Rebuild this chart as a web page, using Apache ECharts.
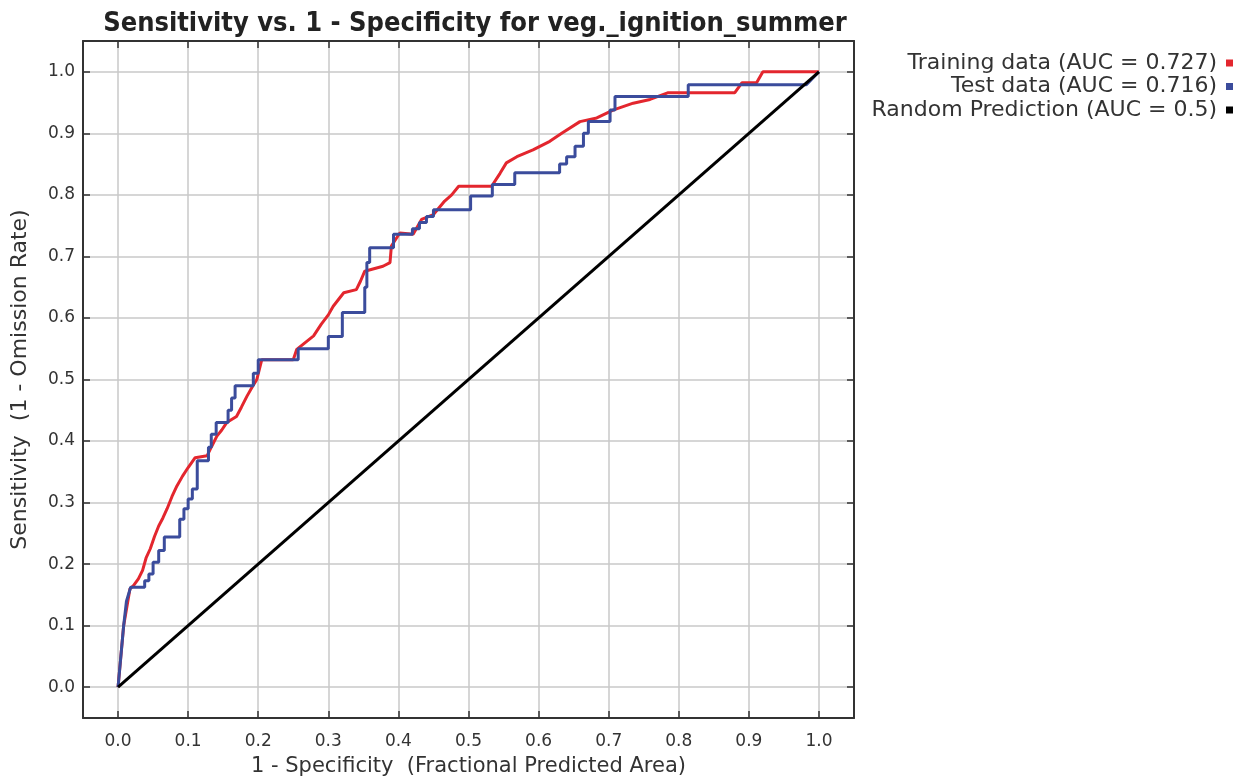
<!DOCTYPE html>
<html>
<head>
<meta charset="utf-8">
<script src="https://cdn.jsdelivr.net/npm/echarts@6/dist/echarts.min.js"></script>
<style>html,body{margin:0;padding:0;background:#fff}#c{width:1242px;height:782px}</style>
</head>
<body>
<div id="c"></div>
<script>
const titleText = 'Sensitivity vs. 1 - Specificity for veg._ignition_summer';
const xAxisTitle = '1 - Specificity  (Fractional Predicted Area)';
const yAxisTitle = 'Sensitivity  (1 - Omission Rate)';
const tickValues = [0, 0.1, 0.2, 0.3, 0.4, 0.5, 0.6, 0.7, 0.8, 0.9, 1.0];
const seriesNames = ['Training data (AUC = 0.727)', 'Test data (AUC = 0.716)', 'Random Prediction (AUC = 0.5)'];

const trainingData = [[0,0],[0.008,0.10],[0.017,0.16],[0.022,0.165],[0.029,0.176],[0.035,0.19],[0.04,0.21],[0.046,0.225],[0.052,0.245],[0.058,0.262],[0.064,0.275],[0.07,0.29],[0.077,0.31],[0.084,0.327],[0.092,0.343],[0.1,0.357],[0.11,0.373],[0.127,0.376],[0.133,0.39],[0.141,0.408],[0.148,0.418],[0.155,0.43],[0.169,0.44],[0.176,0.455],[0.184,0.473],[0.191,0.487],[0.198,0.5],[0.205,0.532],[0.25,0.532],[0.255,0.549],[0.267,0.56],[0.279,0.571],[0.29,0.59],[0.3,0.605],[0.307,0.619],[0.322,0.641],[0.34,0.646],[0.346,0.66],[0.352,0.676],[0.378,0.684],[0.388,0.69],[0.39,0.717],[0.402,0.738],[0.421,0.736],[0.433,0.76],[0.45,0.768],[0.466,0.79],[0.476,0.80],[0.486,0.814],[0.533,0.814],[0.545,0.835],[0.554,0.852],[0.569,0.862],[0.592,0.873],[0.616,0.887],[0.633,0.9],[0.659,0.919],[0.683,0.925],[0.707,0.938],[0.735,0.949],[0.759,0.955],[0.785,0.966],[0.88,0.966],[0.89,0.982],[0.911,0.982],[0.92,1.0],[1,1]];

const testData = [[0,0],[0.008,0.10],[0.012,0.14],[0.018,0.1625],[0.038,0.1625],[0.038,0.173],[0.044,0.173],[0.044,0.184],[0.05,0.184],[0.05,0.203],[0.058,0.203],[0.058,0.222],[0.066,0.222],[0.066,0.244],[0.088,0.244],[0.088,0.273],[0.094,0.273],[0.094,0.29],[0.1,0.29],[0.1,0.306],[0.106,0.306],[0.106,0.322],[0.113,0.322],[0.113,0.368],[0.129,0.368],[0.129,0.39],[0.133,0.39],[0.133,0.411],[0.14,0.411],[0.14,0.43],[0.157,0.43],[0.157,0.45],[0.162,0.45],[0.162,0.47],[0.167,0.47],[0.167,0.49],[0.193,0.49],[0.193,0.51],[0.2,0.51],[0.2,0.532],[0.257,0.532],[0.257,0.55],[0.3,0.55],[0.3,0.57],[0.32,0.57],[0.32,0.609],[0.352,0.609],[0.352,0.65],[0.355,0.65],[0.355,0.69],[0.359,0.69],[0.359,0.714],[0.393,0.714],[0.393,0.736],[0.42,0.736],[0.42,0.745],[0.43,0.745],[0.43,0.755],[0.44,0.755],[0.44,0.765],[0.45,0.765],[0.45,0.776],[0.503,0.776],[0.503,0.798],[0.534,0.798],[0.534,0.817],[0.566,0.817],[0.566,0.836],[0.63,0.836],[0.63,0.85],[0.64,0.85],[0.64,0.862],[0.652,0.862],[0.652,0.879],[0.664,0.879],[0.664,0.9],[0.671,0.9],[0.671,0.919],[0.702,0.919],[0.702,0.938],[0.709,0.938],[0.709,0.96],[0.8135,0.96],[0.8135,0.979],[0.982,0.979],[1,1]];

const randomData = [[0,0],[1,1]];

const colors = ['#e3262e', '#3b4c9c', '#000000'];
const FONT = "'DejaVu Sans', sans-serif";
const TITLE_FONT = "'DejaVu Sans Condensed', 'DejaVu Sans', sans-serif";

const chart = echarts.init(document.getElementById('c'), null, {renderer: 'canvas'});

function makeAxis(pos, isX, primary) {
  return {
    type: 'value',
    position: pos,
    min: -0.05,
    max: 1.05,
    axisLine: {show: true, onZero: false, lineStyle: {color: '#333', width: 2}},
    axisTick: {show: true, inside: true, length: 7, customValues: tickValues, lineStyle: {color: '#333', width: 1.5}},
    axisLabel: primary ? {show: true, customValues: tickValues, formatter: v => v.toFixed(1), color: '#333', fontFamily: FONT, fontSize: 17, margin: isX ? 15 : 8} : {show: false},
    splitLine: primary ? {show: true, lineStyle: {color: '#c8c8c8', width: 1.5}} : {show: false},
    name: primary ? (isX ? xAxisTitle : yAxisTitle) : '',
    nameLocation: 'middle',
    nameGap: isX ? 38 : 52,
    nameTextStyle: {color: '#333', fontFamily: FONT, fontSize: isX ? 21 : 22}
  };
}

chart.setOption({
  animation: false,
  backgroundColor: '#fff',
  color: colors,
  title: {
    text: titleText,
    left: 470, textAlign: 'center',
    top: 5,
    textStyle: {fontFamily: TITLE_FONT, fontWeight: 'bold', fontSize: 27, color: '#222'}
  },
  legend: seriesNames.map((n, i) => ({
    data: [n],
    orient: 'vertical',
    right: 9,
    top: 51 + i * 23.5,
    padding: 0,
    align: 'right',
    icon: 'rect',
    itemWidth: 7,
    itemHeight: 7,
    selectedMode: false,
    textStyle: {fontFamily: FONT, fontSize: 22, lineHeight: 24, color: '#333', padding: [0, 4, 0, 0]}
  })),
  grid: {left: 83, right: 388, top: 41, bottom: 63, containLabel: false},
  xAxis: [makeAxis('bottom', true, true), makeAxis('top', true, false)],
  yAxis: [makeAxis('left', false, true), makeAxis('right', false, false)],
  series: [
    {name: seriesNames[0], type: 'line', data: trainingData, showSymbol: false, symbol: 'none', lineStyle: {width: 3, color: colors[0]}, itemStyle: {color: colors[0]}, z: 3},
    {name: seriesNames[1], type: 'line', data: testData, showSymbol: false, symbol: 'none', lineStyle: {width: 3, color: colors[1]}, itemStyle: {color: colors[1]}, z: 4},
    {name: seriesNames[2], type: 'line', data: randomData, showSymbol: false, symbol: 'none', lineStyle: {width: 3, color: colors[2]}, itemStyle: {color: colors[2]}, z: 5}
  ]
});
</script>
</body>
</html>
